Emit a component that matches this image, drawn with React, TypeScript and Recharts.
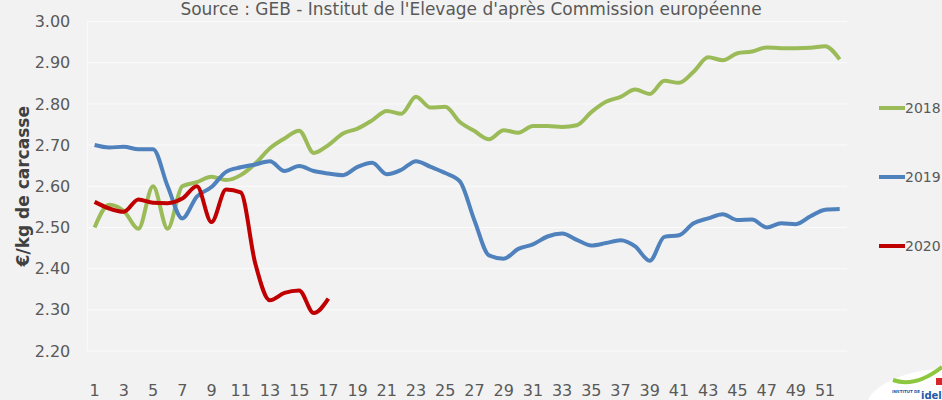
import { ComposedChart, Line, XAxis, YAxis, CartesianGrid, Legend } from "recharts";

// weekly EU carcass price, €/kg
const weeks = [
  "1", "2", "3", "4", "5", "6", "7", "8", "9", "10", "11", "12", "13",
  "14", "15", "16", "17", "18", "19", "20", "21", "22", "23", "24", "25", "26",
  "27", "28", "29", "30", "31", "32", "33", "34", "35", "36", "37", "38", "39",
  "40", "41", "42", "43", "44", "45", "46", "47", "48", "49", "50", "51", "52",
];

const price2018 = [
  2.5, 2.555, 2.54, 2.497, 2.6, 2.497, 2.6, 2.61, 2.623, 2.615, 2.627, 2.655, 2.692,
  2.716, 2.735, 2.681, 2.7, 2.728, 2.74, 2.76, 2.783, 2.776, 2.817, 2.791, 2.793, 2.756,
  2.734, 2.714, 2.736, 2.73, 2.746, 2.746, 2.744, 2.748, 2.78, 2.805, 2.817, 2.835, 2.824,
  2.856, 2.851, 2.878, 2.913, 2.906, 2.923, 2.927, 2.937, 2.935, 2.935, 2.936, 2.94, 2.908,
];

const price2019 = [
  2.7, 2.694, 2.696, 2.69, 2.69, 2.6, 2.522, 2.575, 2.598, 2.635, 2.646, 2.653, 2.661,
  2.637, 2.649, 2.637, 2.631, 2.627, 2.647, 2.657, 2.629, 2.64, 2.661, 2.647, 2.632, 2.612,
  2.517, 2.432, 2.424, 2.448, 2.459, 2.478, 2.485, 2.47, 2.456, 2.462, 2.469, 2.454, 2.419,
  2.477, 2.481, 2.51, 2.522, 2.532, 2.518, 2.519, 2.5, 2.51, 2.508, 2.527, 2.543, 2.545,
];

const price2020 = [
  2.562, 2.546, 2.538, 2.568, 2.56, 2.559, 2.57, 2.6, 2.513, 2.592, 2.585, 2.412, 2.323,
  2.341, 2.347, 2.292, 2.327,
];

const yTicks = [2.2, 2.3, 2.4, 2.5, 2.6, 2.7, 2.8, 2.9, 3.0];
const seriesNames = ["2018", "2019", "2020"];
const seriesColors = ["#9BBB59", "#4F81BD", "#C00000"];

const FONT = "'Century Gothic', 'DejaVu Sans', sans-serif";
const TEXT = "#595959";
const GRID = "#fbfbfb";

const data = weeks.map((week, i) => ({
  week,
  slot: i,
  y2018: price2018[i],
  y2019: price2019[i],
  y2020: i < price2020.length ? price2020[i] : null,
}));

// week boundaries for the small marks along the top edge
const slotBounds = [...weeks.map((_, i) => i), weeks.length];

function SeriesLegend() {
  return (
    <div style={{ fontFamily: FONT }}>
      {seriesNames.map((name, i) => (
        <div key={name} style={{ display: "flex", alignItems: "center", height: 20, marginBottom: 49 }}>
          <span style={{ display: "inline-block", width: 26, height: 4, background: seriesColors[i] }} />
          <span style={{ color: TEXT, fontSize: 14 }}>{name}</span>
        </div>
      ))}
    </div>
  );
}

function IdeleLogo() {
  return (
    <svg width={942} height={400} style={{ position: "absolute", left: 0, top: 0, pointerEvents: "none" }}>
      <ellipse cx={918} cy={394} rx={52} ry={22} transform="rotate(-14 918 394)" fill="#ffffff" />
      <path d="M 893 380 Q 915 388 942 367" stroke="#8DC63F" strokeWidth={4} fill="none" />
      <rect x={936} y={378} width={6} height={7} fill="#D7262B" />
      <text x={921} y={399} fontFamily="DejaVu Sans" fontWeight="bold" fontSize={10} fill="#1F5AA6">idel</text>
      <text x={892} y={393} fontFamily="DejaVu Sans" fontWeight="bold" fontSize={4} fill="#1F5AA6">INSTITUT DE</text>
    </svg>
  );
}

export default function App() {
  return (
    <div style={{ position: "absolute", left: 0, top: 0, width: 942, height: 400, background: "#f2f2f2", overflow: "hidden" }}>
      <div
        style={{
          position: "absolute",
          top: 0,
          left: 0,
          width: 942,
          textAlign: "center",
          fontFamily: FONT,
          fontSize: 17,
          lineHeight: "18px",
          color: TEXT,
          whiteSpace: "nowrap",
        }}
      >
        Source : GEB - Institut de l'Elevage d'après Commission européenne
      </div>
      <ComposedChart
        width={942}
        height={400}
        data={data}
        margin={{ top: 20.5, right: 95, left: 0, bottom: 0 }}
        style={{ position: "absolute", left: 0, top: 0 }}
      >
        <CartesianGrid xAxisId="main" yAxisId="price" vertical={false} stroke={GRID} strokeWidth={1} />
        <XAxis
          xAxisId="main"
          dataKey="week"
          interval={1}
          height={49}
          padding={{ left: 7.3, right: 7.3 }}
          tickSize={0}
          tickMargin={34}
          axisLine={false}
          tick={{ fill: TEXT, fontSize: 16, fontFamily: FONT }}
        />
        <XAxis
          xAxisId="top"
          orientation="top"
          type="number"
          dataKey="slot"
          domain={[0, weeks.length]}
          ticks={slotBounds}
          allowDataOverflow
          height={1}
          tick={false}
          tickSize={-4}
          tickLine={{ stroke: "#fafafa" }}
          axisLine={{ stroke: GRID }}
        />
        <YAxis
          yAxisId="price"
          width={87.3}
          domain={[2.2, 3.0]}
          ticks={yTicks}
          tickFormatter={(v: number) => v.toFixed(2)}
          tickSize={0}
          tickMargin={17}
          axisLine={{ stroke: GRID }}
          tick={{ fill: TEXT, fontSize: 16, fontFamily: FONT }}
          label={{
            value: "€/kg de carcasse",
            angle: -90,
            position: "insideLeft",
            offset: 23,
            style: { textAnchor: "middle", fill: "#404040", fontSize: 17, fontWeight: "bold", fontFamily: FONT },
          }}
        />
        <Legend
          layout="vertical"
          align="center"
          verticalAlign="middle"
          content={() => <SeriesLegend />}
          wrapperStyle={{ left: 879, top: 98, width: 63 }}
        />
        <Line xAxisId="main" yAxisId="price" type="monotone" dataKey="y2018" name="2018" stroke={seriesColors[0]} strokeWidth={4} dot={false} isAnimationActive={false} />
        <Line xAxisId="main" yAxisId="price" type="monotone" dataKey="y2019" name="2019" stroke={seriesColors[1]} strokeWidth={4} dot={false} isAnimationActive={false} />
        <Line xAxisId="main" yAxisId="price" type="monotone" dataKey="y2020" name="2020" stroke={seriesColors[2]} strokeWidth={4} dot={false} isAnimationActive={false} />
      </ComposedChart>
      <IdeleLogo />
    </div>
  );
}
